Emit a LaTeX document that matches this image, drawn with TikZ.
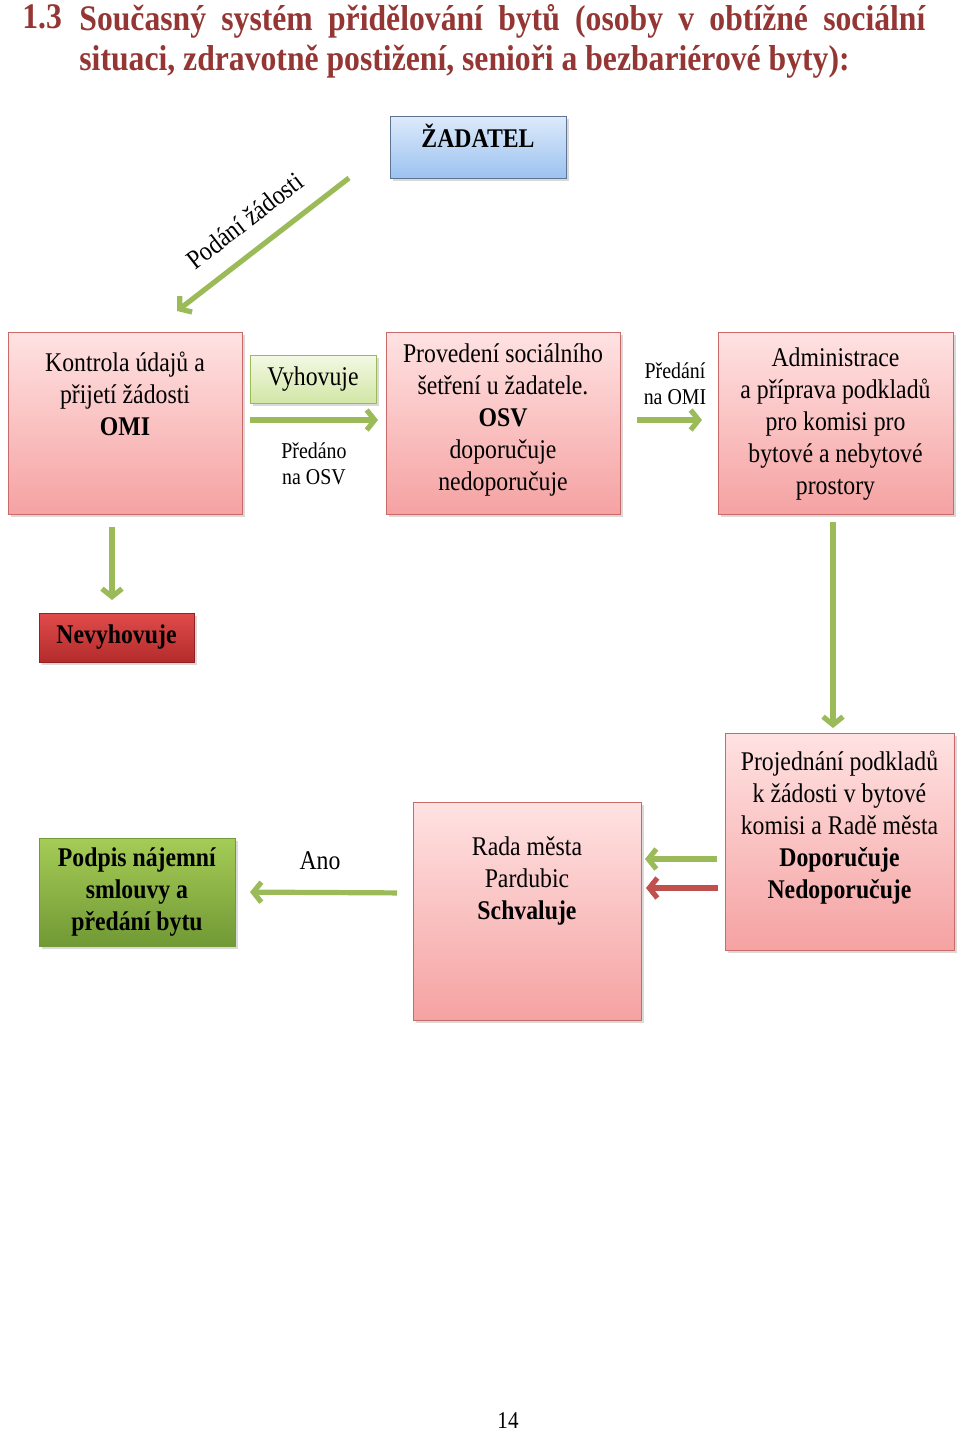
\documentclass[tikz,border=0pt]{standalone}
\usepackage{fontspec}
\setmainfont{Liberation Serif}[FakeStretch=0.88]
\usepackage{tikz}
\usetikzlibrary{arrows.meta,positioning,shadows}

\definecolor{nadpis}{HTML}{943634}
\definecolor{zelena}{HTML}{9BBB59}
\definecolor{cervena}{HTML}{C0504D}
\definecolor{ruzovaH}{HTML}{FFE2E2}
\definecolor{ruzovaD}{HTML}{F5A2A2}
\definecolor{modraH}{HTML}{DDEAFA}
\definecolor{modraD}{HTML}{9CC2F0}
\definecolor{svzelH}{HTML}{F3F9E4}
\definecolor{svzelD}{HTML}{D2E6A6}
\definecolor{cervH}{HTML}{E04B4B}
\definecolor{cervD}{HTML}{B42B2B}
\definecolor{tzelH}{HTML}{A5CC56}
\definecolor{tzelD}{HTML}{719935}

% text of a box, set from its top
\newcommand{\obsah}[4]{\parbox[c][#1][t]{#2}{\centering\vspace*{#3}\strut#4}}

\begin{document}
\begin{tikzpicture}[x=0.5pt,y=-0.5pt,
        blok/.style={rectangle,inner sep=0pt,outer sep=0pt,anchor=north west,
          font=\fontsize{13.5}{16}\selectfont,
          drop shadow={shadow xshift=1.5pt,shadow yshift=-1.5pt,opacity=0.3}},
        ruzovy/.style={blok,draw=cervena!85,top color=ruzovaH,bottom color=ruzovaD},
        modry/.style={blok,draw=modraD!60!black,top color=modraH,bottom color=modraD},
        svetlezeleny/.style={blok,draw=zelena,top color=svzelH,bottom color=svzelD,anchor=center},
        cerveny/.style={blok,draw=cervD!80!black,top color=cervH,bottom color=cervD,anchor=center},
        tmavezeleny/.style={blok,draw=tzelD,top color=tzelH,bottom color=tzelD,anchor=center,align=center},
        sipka/.style={-{Straight Barb[length=4pt,width=10pt]},line width=2.6pt,draw=zelena},
        maly/.style={inner sep=0pt,align=center,font=\fontsize{11.3}{13}\selectfont},
        popis/.style={inner sep=0pt,font=\fontsize{13.5}{16}\selectfont}]
      \useasboundingbox (0,0) rectangle (960,1432);

      % nadpis
      \node [anchor=base west,inner sep=0pt,text=nadpis,font=\fontsize{18}{20}\selectfont\bfseries] (cislo) at (22,28) {1.3};
      \node [anchor=north west,inner sep=0pt,text=nadpis,text width=423pt,align=justify,
        font=\fontsize{18}{20}\selectfont\bfseries] (nazev) at (79,2)
        {\strut Současný systém přidělování bytů (osoby v obtížné sociální\linebreak situaci, zdravotně postižení, senioři a bezbariérové byty):};

      % bloky
      \node [modry,minimum width=88pt,minimum height=31pt] (zadatel) at (390,116)
        {\obsah{31pt}{86pt}{3.8pt}{\textbf{ŽADATEL}}};
      \node [ruzovy,minimum width=117pt,minimum height=91pt] (kontrola) at (8,332)
        {\obsah{91pt}{115pt}{8.3pt}{Kontrola údajů a\\ přijetí žádosti\\ \textbf{OMI}}};
      \node [svetlezeleny,minimum width=63pt,minimum height=24pt] (vyhovuje) at (313,379) {Vyhovuje};
      \node [ruzovy,minimum width=117pt,minimum height=91pt] (provedeni) at (386,332)
        {\obsah{91pt}{115pt}{3.8pt}{Provedení sociálního\\ šetření u žadatele.\\ \textbf{OSV}\\ doporučuje\\ nedoporučuje}};
      \node [ruzovy,minimum width=117.5pt,minimum height=91pt] (administrace) at (718,332)
        {\obsah{91pt}{115pt}{5.8pt}{Administrace\\ a příprava podkladů\\ pro komisi pro\\ bytové a nebytové\\ prostory}};
      \node [cerveny,minimum width=77.5pt,minimum height=24.5pt] (nevyhovuje) at (116.5,637.5) {\textbf{Nevyhovuje}};
      \node [ruzovy,minimum width=114.5pt,minimum height=108.5pt] (projednani) at (725,733)
        {\obsah{108.5pt}{113pt}{7.3pt}{Projednání podkladů\\ k žádosti v bytové\\ komisi a Radě města\\ \textbf{Doporučuje}\\ \textbf{Nedoporučuje}}};
      \node [ruzovy,minimum width=114pt,minimum height=109pt] (rada) at (413,802)
        {\obsah{109pt}{112pt}{15.3pt}{Rada města\\ Pardubic\\ \textbf{Schvaluje}}};
      \node [tmavezeleny,minimum width=98pt,minimum height=54pt] (podpis) at (137,892)
        {\textbf{Podpis nájemní}\\ \textbf{smlouvy a}\\ \textbf{předání bytu}};

      % sipky
      \draw [sipka] ([xshift=-20.5pt]zadatel.south west) -- ([xshift=26pt,yshift=10.5pt]kontrola.north)
        node [midway,sloped,above=9pt,popis] (podani) {Podání žádosti};
      \draw [sipka,shorten <=4pt,shorten >=4pt] ([yshift=1.5pt]kontrola.east) -- ([yshift=1.5pt]provedeni.west)
        node [midway,below=10pt,maly] (predano) {Předáno\\na OSV};
      \draw [sipka,shorten <=8.5pt,shorten >=8pt] ([yshift=1.5pt]provedeni.east) -- ([yshift=1.5pt]administrace.west)
        node [midway,above=6.5pt,xshift=3pt,maly] (predani) {Předání\\na OMI};
      \draw [sipka,shorten <=6.5pt,shorten >=6.5pt] ([xshift=-6.5pt]kontrola.south) -- ([xshift=-2.25pt]nevyhovuje.north);
      \draw [sipka,shorten <=4pt,shorten >=2.5pt] ([xshift=-1.25pt]administrace.south) -- ([xshift=-3.25pt]projednani.north);
      \draw [sipka,shorten <=4pt,shorten >=2pt] ([yshift=-8.75pt]projednani.west) -- ([yshift=26pt]rada.east);
      \draw [sipka,draw=cervena,shorten <=3.5pt,shorten >=2.5pt] ([yshift=-23.25pt]projednani.west) -- ([yshift=11.5pt]rada.east);
      \draw [sipka,shorten <=8pt,shorten >=7.5pt] ([yshift=9pt]rada.west) -- (podpis.east)
        node [midway,above=10pt,xshift=-2pt,popis] (ano) {Ano};

      \node [font=\fontsize{12}{14}\selectfont] (strana) at (508,1421) {14};
    \end{tikzpicture}
\end{document}
